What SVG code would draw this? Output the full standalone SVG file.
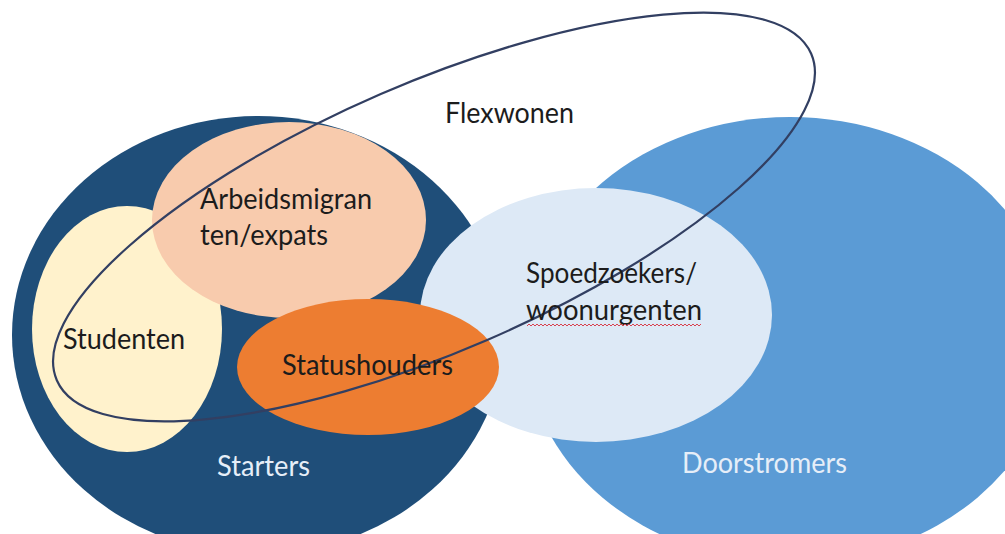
<svg xmlns="http://www.w3.org/2000/svg" width="1005" height="534" viewBox="0 0 1005 534">
<style>
  .lbl { font-family: Lato, "Liberation Sans", sans-serif; font-size: 28px; fill: #1c1c1c; }
  .wht { font-family: Lato, "Liberation Sans", sans-serif; font-size: 28px; fill: #e6eef8; }
  .loop { fill: none; stroke: #323f62; stroke-width: 2.2; }
</style>
<rect width="1005" height="534" fill="#ffffff"/>
<g id="starters">
  <ellipse cx="258" cy="335" rx="246" ry="219" fill="#1f4e79"/>
</g>
<g id="doorstromers">
  <ellipse cx="790" cy="340" rx="265" ry="223" fill="#5b9bd5"/>
</g>
<g id="spoedzoekers">
  <ellipse cx="596" cy="315" rx="176" ry="127" fill="#dde9f6"/>
</g>
<g id="studenten">
  <ellipse cx="127" cy="329" rx="95" ry="123" fill="#fff2cc"/>
</g>
<g id="arbeidsmigranten">
  <ellipse cx="289" cy="220" rx="137" ry="98" fill="#f8cbad"/>
</g>
<g id="statushouders">
  <ellipse cx="368" cy="367" rx="131" ry="68" fill="#ed7d31"/>
</g>
<g id="flexwonen">
  <ellipse class="loop" cx="434" cy="217" rx="411" ry="134" transform="rotate(-23.4 434 217)"/>
</g>
<g id="labels">
  <text class="lbl" x="445" y="123" textLength="129" lengthAdjust="spacingAndGlyphs">Flexwonen</text>
  <text class="lbl" x="200" y="209" textLength="172" lengthAdjust="spacingAndGlyphs">Arbeidsmigran</text>
  <text class="lbl" x="200" y="245" textLength="128" lengthAdjust="spacingAndGlyphs">ten/expats</text>
  <text class="lbl" x="63" y="349" textLength="122" lengthAdjust="spacingAndGlyphs">Studenten</text>
  <text class="lbl" x="282" y="375" textLength="171" lengthAdjust="spacingAndGlyphs">Statushouders</text>
  <text class="lbl" x="526" y="283" textLength="171" lengthAdjust="spacingAndGlyphs">Spoedzoekers/</text>
  <text class="lbl" x="526" y="320" textLength="176" lengthAdjust="spacingAndGlyphs">woonurgenten</text>
  <polyline fill="none" stroke="#d9404f" stroke-width="1" points="527,326 529,324 531,326 533,324 535,326 537,324 539,326 541,324 543,326 545,324 547,326 549,324 551,326 553,324 555,326 557,324 559,326 561,324 563,326 565,324 567,326 569,324 571,326 573,324 575,326 577,324 579,326 581,324 583,326 585,324 587,326 589,324 591,326 593,324 595,326 597,324 599,326 601,324 603,326 605,324 607,326 609,324 611,326 613,324 615,326 617,324 619,326 621,324 623,326 625,324 627,326 629,324 631,326 633,324 635,326 637,324 639,326 641,324 643,326 645,324 647,326 649,324 651,326 653,324 655,326 657,324 659,326 661,324 663,326 665,324 667,326 669,324 671,326 673,324 675,326 677,324 679,326 681,324 683,326 685,324 687,326 689,324 691,326 693,324 695,326 697,324 699,326 701,324"/>
  <text class="wht" x="217" y="476" textLength="93" lengthAdjust="spacingAndGlyphs">Starters</text>
  <text class="wht" x="682" y="473" textLength="165" lengthAdjust="spacingAndGlyphs">Doorstromers</text>
</g>
</svg>
